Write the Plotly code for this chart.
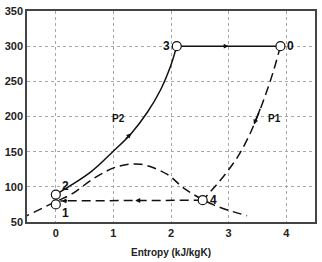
import numpy as np
import plotly.graph_objects as go

# ---- data (entropy kJ/kgK, temperature) ----
p2_s = [0.0, 0.28, 0.62, 0.99, 1.31, 1.59, 1.82, 1.99, 2.1]
p2_T = [89, 103, 122, 150, 176, 206, 238, 271, 300]

top_s = [2.1, 3.9]
top_T = [300, 300]

p1_s = [3.9, 3.78, 3.65, 3.5, 3.34, 3.16, 2.96, 2.76, 2.55]
p1_T = [300, 265, 233, 200, 170, 143, 120, 100, 81]

dome_s = [-0.6, -0.5, 0.0, 0.28, 0.68, 1.08, 1.48, 1.93, 2.24, 2.75, 3.32]
dome_T = [55, 59, 79, 90, 113, 129, 132, 118, 97, 74, 59]

ret_s = [2.55, 0.08]
ret_T = [81, 80]

state_labels = ["0", "3", "2", "1", "4"]
state_s = [3.9, 2.1, 0.0, 0.0, 2.55]
state_T = [300, 300, 89, 75, 81]

curve_labels = ["P2", "P1"]
curve_label_s = [1.08, 3.79]
curve_label_T = [197, 197]

# arrows: (curve, position along entropy axis)
arrow_curves = ["top", "p2", "p1", "ret", "ret"]
arrow_pos = [3.0, 1.31, 3.44, 1.38, 0.1]

INK = "#111111"
DASH = "9px,5px"

fig = go.Figure()
fig.add_trace(go.Scatter(x=dome_s, y=dome_T, mode="lines", line_shape="spline",
                         line=dict(color=INK, width=1.5, dash=DASH), hoverinfo="skip"))
fig.add_trace(go.Scatter(x=p1_s, y=p1_T, mode="lines", line_shape="spline",
                         line=dict(color=INK, width=1.5, dash=DASH), hoverinfo="skip"))
fig.add_trace(go.Scatter(x=ret_s, y=ret_T, mode="lines",
                         line=dict(color=INK, width=1.5, dash=DASH), hoverinfo="skip"))
fig.add_trace(go.Scatter(x=p2_s, y=p2_T, mode="lines", line_shape="spline",
                         line=dict(color=INK, width=1.5), hoverinfo="skip"))
fig.add_trace(go.Scatter(x=top_s, y=top_T, mode="lines",
                         line=dict(color=INK, width=1.5), hoverinfo="skip"))
fig.add_trace(go.Scatter(x=state_s, y=state_T, mode="markers",
                         marker=dict(symbol="circle", size=9, color="white",
                                     line=dict(color=INK, width=1.2)),
                         hoverinfo="skip"))

curves = {"top": (top_s, top_T), "p2": (p2_s, p2_T), "p1": (p1_s, p1_T), "ret": (ret_s, ret_T)}
for name, pos in zip(arrow_curves, arrow_pos):
    cs = np.asarray(curves[name][0], float)
    ct = np.asarray(curves[name][1], float)
    order = np.argsort(cs)
    head_T = np.interp(pos, cs[order], ct[order])
    forward = 1.0 if cs[-1] > cs[0] else -1.0
    tail_s = pos - forward * 0.12
    tail_T = np.interp(tail_s, cs[order], ct[order])
    fig.add_annotation(x=pos, y=head_T, ax=tail_s, ay=tail_T, axref="x", ayref="y",
                       xref="x", yref="y", text="", showarrow=True,
                       arrowhead=2, arrowsize=0.65, arrowwidth=1.5, arrowcolor=INK)

shifts = {"0": (10, 0), "3": (-10, 0), "2": (10, 9), "1": (10, -9), "4": (11, 0)}
for lab, s, t in zip(state_labels, state_s, state_T):
    dx, dy = shifts[lab]
    fig.add_annotation(x=s, y=t, text=lab, showarrow=False, xshift=dx, yshift=dy,
                       font=dict(family="Liberation Sans", size=12, color=INK, weight="bold"))
for lab, s, t in zip(curve_labels, curve_label_s, curve_label_T):
    fig.add_annotation(x=s, y=t, text=lab, showarrow=False,
                       font=dict(family="Liberation Sans", size=10, color=INK, weight="bold"))

axis_common = dict(
    showgrid=True, gridcolor="#a8a8a8", griddash="dot", gridwidth=1,
    showline=True, linecolor="#444444", linewidth=1.5, mirror=True,
    zeroline=False, ticks="",
    tickfont=dict(family="Liberation Sans", size=11, color="#222222", weight="bold"),
)
fig.update_xaxes(range=[-0.5, 4.5], tickvals=[0, 1, 2, 3, 4],
                 title=dict(text="Entropy (kJ/kgK)", standoff=11,
                            font=dict(family="Liberation Sans", size=10, color="#222222", weight="bold")),
                 **axis_common)
fig.update_yaxes(range=[50, 350], tickvals=[50, 100, 150, 200, 250, 300, 350], **axis_common)

fig.update_layout(width=322, height=262, margin=dict(l=25, r=5, t=10, b=37),
                  paper_bgcolor="white", plot_bgcolor="white", showlegend=False)

fig.write_html("out.html")
